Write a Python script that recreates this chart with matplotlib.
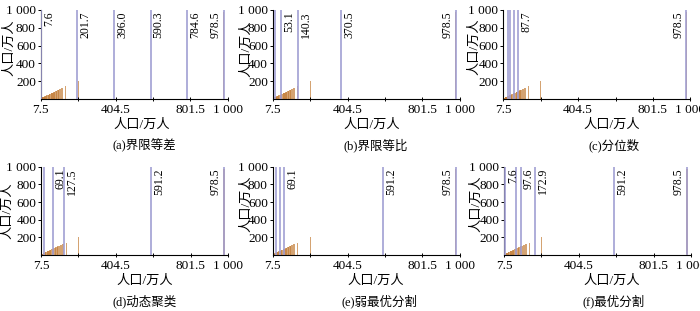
import matplotlib.pyplot as plt

plt.rcParams['font.family'] = ['Liberation Serif', 'Noto Sans CJK SC']
plt.rcParams['axes.unicode_minus'] = False

# city populations (万人), drawn as bar at x=value with height=value
pop = [7.6, 9.5, 11.8, 14.2, 16.9, 19.3, 21.8, 24.7, 27.4, 30.2, 33.5, 36.8,
       40.1, 43.2, 46.6, 49.7, 53.1, 56.4, 59.8, 63.1, 66.5, 69.1, 72.8, 76.0,
       79.4, 82.9, 86.3, 89.5, 93.1, 96.4, 99.8, 104.2, 109.5, 114.3, 119.6,
       125.1, 141.3, 206.2, 978.5]

x_ticks = [7.5, 206.0, 404.5, 603.0, 801.5, 1000.0]
x_ticklabels = ['7.5', '', '404.5', '', '801.5', '1 000']
y_ticks = [200, 400, 600, 800, 1000]
y_ticklabels = ['200', '400', '600', '800', '1 000']

# class breaks per method and the text printed beside each line
breaks_a = [7.6, 201.7, 396.0, 590.3, 784.6, 978.5]
labels_a = ['7.6', '201.7', '396.0', '590.3', '784.6', '978.5']
breaks_b = [20.1, 53.1, 140.3, 370.5, 978.5]
labels_b = ['', '53.1', '140.3', '370.5', '978.5']
breaks_c = [31.0, 45.0, 62.5, 87.7, 978.5]
labels_c = ['', '', '', '87.7', '978.5']
breaks_d = [23.0, 69.1, 127.5, 591.2, 978.5]
labels_d = ['', '69.1', '127.5', '591.2', '978.5']
breaks_e = [26.0, 46.0, 69.1, 591.2, 978.5]
labels_e = ['', '', '69.1', '591.2', '978.5']
breaks_f = [13.0, 70.6, 97.6, 172.9, 591.2, 978.5]
labels_f = ['7.6', '', '97.6', '172.9', '591.2', '978.5']

captions = ['(a)界限等差', '(b)界限等比', '(c)分位数',
            '(d)动态聚类', '(e)弱最优分割', '(f)最优分割']

all_breaks = [breaks_a, breaks_b, breaks_c, breaks_d, breaks_e, breaks_f]
all_labels = [labels_a, labels_b, labels_c, labels_d, labels_e, labels_f]

W, H = 700, 311
fig = plt.figure(figsize=(7, 3.11), dpi=100)

# pixel layout: (left, top, bottom) of each axes, plus ylabel offset and text shift
lefts = [40.7, 272.7, 503.3, 41.0, 272.7, 504.0]
tops = [10, 10, 10, 166.7, 166.7, 166.7]
bottoms = [99, 99, 99, 255, 255, 255]
ylab_off = [25.5, 20.5, 23, 27.5, 20.5, 22]
ylab_y = [0.58, 0.57, 0.59, 0.5, 0.58, 0.58]
xlab_shift = [8, 6, 15, 10, 10, 14]
cap_shift = [10, 9, 17, 10, 13, 16]
width_px = 187

for i in range(6):
    l, t, b = lefts[i], tops[i], bottoms[i]
    h_px = b - t
    ax = fig.add_axes([l / W, 1 - b / H, width_px / W, h_px / H])

    ax.bar(pop, pop, width=6, color='#c27c36', alpha=0.7, linewidth=0, zorder=1)
    ax.vlines(all_breaks[i], 0, 1000, colors='#a19fd3', linewidth=1.2, zorder=3)

    for v, s in zip(all_breaks[i], all_labels[i]):
        if not s:
            continue
        if v > 900:
            ax.annotate(s, (v, 1000), xytext=(-1.5, -1), textcoords='offset points',
                        rotation=90, ha='right', va='top', fontsize=8.5, zorder=4)
        else:
            ax.annotate(s, (v, 1000), xytext=(1.5, -1), textcoords='offset points',
                        rotation=90, ha='left', va='top', fontsize=8.5, zorder=4)

    ax.set_xlim(7.5, 1000)
    ax.set_ylim(0, 1000)
    ax.set_xticks(x_ticks)
    ax.set_xticklabels(x_ticklabels, fontsize=9.5)
    ax.set_yticks(y_ticks)
    ax.set_yticklabels(y_ticklabels, fontsize=9.5)
    ax.tick_params(axis='x', direction='inout', length=3, width=0.7, pad=2)
    ax.tick_params(axis='y', direction='out', length=2.5, width=0.7, pad=1)
    for sp in ['top', 'right']:
        ax.spines[sp].set_visible(False)
    for sp in ['left', 'bottom']:
        ax.spines[sp].set_linewidth(0.8)

    ax.set_ylabel('人口/万人', fontsize=9.5)
    ax.yaxis.set_label_coords(-ylab_off[i] / width_px, ylab_y[i])

    ax.text(0.5 + xlab_shift[i] / width_px, -26 / h_px, '人口/万人', fontsize=9.5,
            ha='center', va='center', transform=ax.transAxes)
    ax.text(0.5 + cap_shift[i] / width_px, -46 / h_px, captions[i], fontsize=9,
            ha='center', va='center', transform=ax.transAxes)

fig.savefig('out.png', dpi=100)
